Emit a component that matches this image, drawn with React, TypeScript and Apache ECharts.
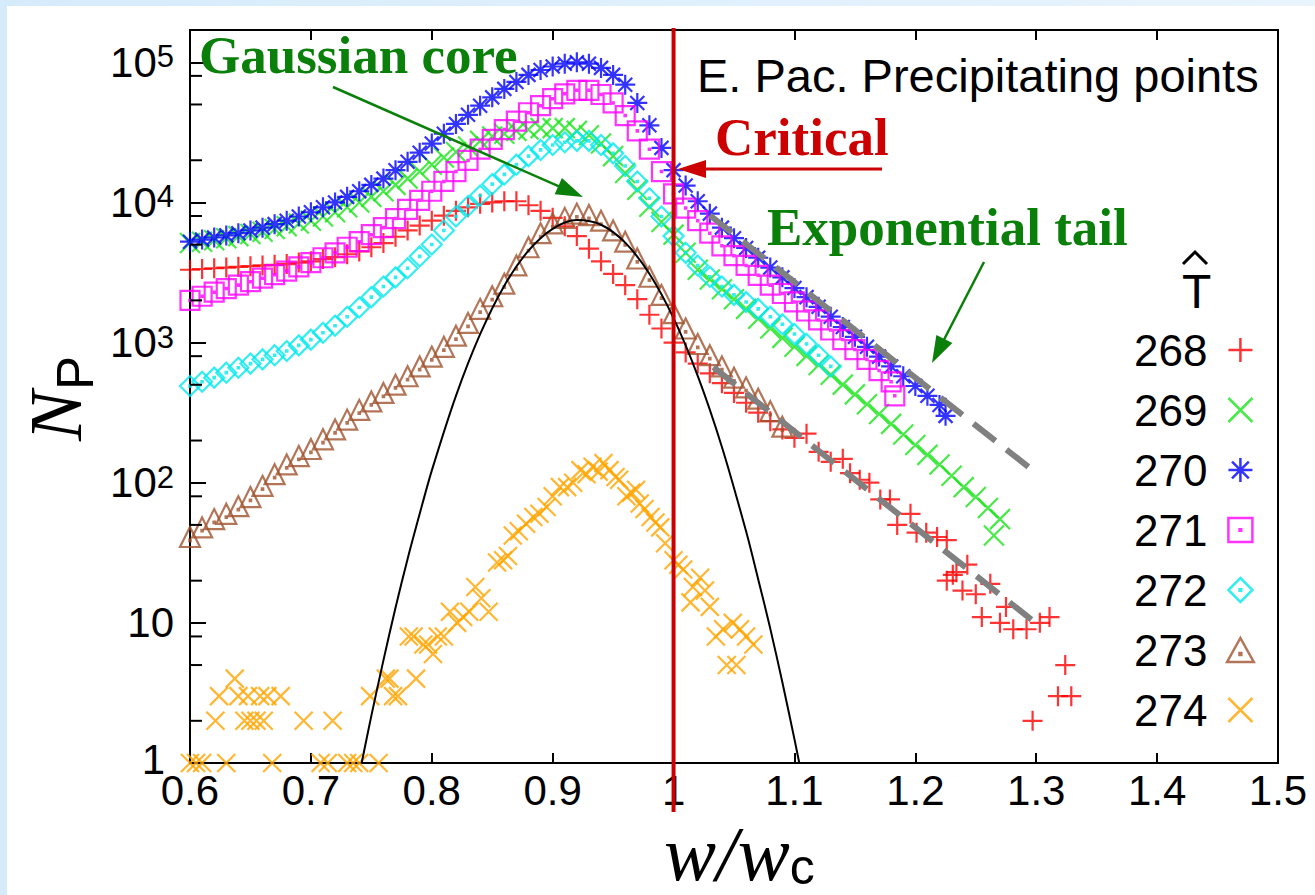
import React, { useEffect, useRef } from "react";
import * as echarts from "echarts";

const SANS = "Liberation Sans, Arial, Helvetica, sans-serif";
const SERIF = "Liberation Serif, Times New Roman, serif";

// ---- data: [w/wc, N_P] ----
const T268: [number, number][] = [
  [0.60, 3310], [0.61, 3350], [0.62, 3390], [0.63, 3430], [0.64, 3470], [0.65, 3510], [0.66, 3550], [0.67, 3590],
  [0.68, 3630], [0.69, 3720], [0.70, 3800], [0.71, 3940], [0.72, 4070], [0.73, 4270], [0.74, 4470], [0.75, 4790],
  [0.76, 5130], [0.77, 5690], [0.78, 6310], [0.79, 6840], [0.80, 7410], [0.81, 8040], [0.82, 8710], [0.83, 9230],
  [0.84, 9770], [0.85, 10000], [0.86, 10200], [0.87, 10200], [0.88, 9550], [0.89, 8710], [0.90, 7760], [0.91, 6760],
  [0.92, 5750], [0.93, 4680], [0.94, 3800], [0.95, 3090], [0.96, 2570], [0.97, 2040], [0.98, 1580], [0.99, 1260],
  [1.00, 1000], [1.01, 851], [1.02, 708], [1.03, 603], [1.04, 513], [1.05, 437], [1.06, 372], [1.07, 316],
  [1.08, 275], [1.09, 240], [1.10, 209], [1.11, 224], [1.12, 166], [1.13, 141], [1.14, 148], [1.146, 117],
  [1.154, 105], [1.162, 100], [1.171, 76], [1.179, 76], [1.185, 50], [1.196, 60], [1.201, 44], [1.209, 44],
  [1.218, 41], [1.226, 39], [1.226, 20], [1.231, 22], [1.234, 23], [1.239, 17], [1.243, 26], [1.25, 16],
  [1.255, 11], [1.262, 19], [1.27, 10], [1.275, 13], [1.281, 9], [1.292, 9], [1.297, 2], [1.303, 10],
  [1.311, 11], [1.318, 3], [1.324, 5], [1.329, 3],
];

const T269: [number, number][] = [
  [0.60, 5130], [0.61, 5250], [0.62, 5370], [0.63, 5560], [0.64, 5750], [0.65, 5960], [0.66, 6170], [0.67, 6460],
  [0.68, 6760], [0.69, 7080], [0.70, 7410], [0.71, 7940], [0.72, 8510], [0.73, 9230], [0.74, 10000], [0.75, 10960],
  [0.76, 12020], [0.77, 13340], [0.78, 14790], [0.79, 16600], [0.80, 18600], [0.81, 20900], [0.82, 22900], [0.83, 25100],
  [0.84, 27500], [0.85, 29500], [0.86, 30900], [0.87, 32400], [0.88, 33100], [0.89, 33900], [0.90, 33900], [0.91, 33900],
  [0.92, 32400], [0.93, 30200], [0.94, 26300], [0.95, 21400], [0.96, 16200], [0.97, 12300], [0.98, 9330], [0.99, 7240],
  [1.00, 5890], [1.01, 4370], [1.02, 3310], [1.03, 2820], [1.04, 2400], [1.05, 2040], [1.06, 1740], [1.07, 1480],
  [1.08, 1260], [1.09, 1080], [1.10, 933], [1.11, 804], [1.12, 692], [1.13, 589], [1.14, 501], [1.15, 427],
  [1.16, 363], [1.17, 309], [1.18, 263], [1.19, 221], [1.20, 186], [1.21, 158], [1.22, 135], [1.23, 112],
  [1.24, 93], [1.25, 79], [1.26, 66], [1.265, 42], [1.27, 55],
];

const T270: [number, number][] = [
  [0.60, 5250], [0.61, 5430], [0.62, 5620], [0.63, 5820], [0.64, 6030], [0.65, 6310], [0.66, 6610], [0.67, 7000],
  [0.68, 7410], [0.69, 7940], [0.70, 8510], [0.71, 9230], [0.72, 10000], [0.73, 10960], [0.74, 12020], [0.75, 13340],
  [0.76, 14790], [0.77, 16980], [0.78, 19500], [0.79, 22650], [0.80, 26300], [0.81, 30900], [0.82, 36300], [0.83, 42200],
  [0.84, 49000], [0.85, 56200], [0.86, 64600], [0.87, 72400], [0.88, 81300], [0.89, 88100], [0.90, 93300], [0.91, 97700],
  [0.92, 100000], [0.93, 97700], [0.94, 91200], [0.95, 81300], [0.96, 69200], [0.97, 51300], [0.98, 35500], [0.99, 24500],
  [1.00, 17000], [1.01, 13200], [1.02, 10200], [1.03, 8320], [1.04, 6610], [1.05, 5560], [1.06, 4730], [1.07, 4030],
  [1.08, 3430], [1.09, 2920], [1.10, 2450], [1.11, 2110], [1.12, 1800], [1.13, 1530], [1.14, 1290], [1.15, 1100],
  [1.16, 933], [1.17, 794], [1.18, 676], [1.19, 575], [1.20, 490], [1.21, 417], [1.22, 359], [1.225, 300],
];

const T271: [number, number][] = [
  [0.60, 2000], [0.61, 2140], [0.62, 2290], [0.63, 2430], [0.64, 2570], [0.65, 2720], [0.66, 2880], [0.67, 3050],
  [0.68, 3240], [0.69, 3470], [0.70, 3720], [0.71, 4030], [0.72, 4370], [0.73, 4790], [0.74, 5250], [0.75, 5890],
  [0.76, 6610], [0.77, 7670], [0.78, 8910], [0.79, 10350], [0.80, 12020], [0.81, 14130], [0.82, 16600], [0.83, 19950],
  [0.84, 24000], [0.85, 28200], [0.86, 33100], [0.87, 38000], [0.88, 43650], [0.89, 49000], [0.90, 55000], [0.91, 59600],
  [0.92, 63100], [0.93, 63100], [0.94, 58900], [0.95, 51300], [0.96, 41700], [0.97, 32400], [0.98, 24000], [0.99, 16600],
  [1.00, 11500], [1.01, 9120], [1.02, 7410], [1.03, 6030], [1.04, 4900], [1.05, 4170], [1.06, 3550], [1.07, 3020],
  [1.08, 2570], [1.09, 2240], [1.10, 1950], [1.11, 1680], [1.12, 1450], [1.13, 1230], [1.14, 1050], [1.15, 891],
  [1.16, 759], [1.17, 631], [1.18, 525], [1.183, 417],
];

const T272: [number, number][] = [
  [0.60, 490], [0.61, 525], [0.62, 562], [0.63, 610], [0.64, 661], [0.65, 708], [0.66, 759], [0.67, 813],
  [0.68, 871], [0.69, 955], [0.70, 1050], [0.71, 1175], [0.72, 1320], [0.73, 1530], [0.74, 1780], [0.75, 2110],
  [0.76, 2510], [0.77, 2920], [0.78, 3390], [0.79, 4120], [0.80, 5010], [0.81, 6310], [0.82, 7940], [0.83, 9440],
  [0.84, 11200], [0.85, 13500], [0.86, 15850], [0.87, 18600], [0.88, 21400], [0.89, 23700], [0.90, 25700], [0.91, 26900],
  [0.92, 27500], [0.93, 27500], [0.94, 25700], [0.95, 22400], [0.96, 18200], [0.97, 14100], [0.98, 10700], [0.99, 7940],
  [1.00, 5750], [1.01, 4370], [1.02, 3550], [1.03, 2950], [1.04, 2510], [1.05, 2190], [1.06, 1950], [1.07, 1740],
  [1.08, 1530], [1.09, 1350], [1.10, 1150], [1.11, 977], [1.12, 813], [1.13, 676],
];

const T273: [number, number][] = [
  [0.60, 41], [0.61, 48], [0.62, 55], [0.63, 60], [0.64, 68], [0.65, 79], [0.66, 95], [0.67, 115],
  [0.68, 135], [0.69, 155], [0.70, 174], [0.71, 204], [0.72, 240], [0.73, 282], [0.74, 331], [0.75, 380],
  [0.76, 437], [0.77, 501], [0.78, 575], [0.79, 676], [0.80, 794], [0.81, 933], [0.82, 1120], [0.83, 1380],
  [0.84, 1740], [0.85, 2140], [0.86, 2630], [0.87, 3550], [0.88, 4790], [0.89, 6030], [0.90, 7080], [0.91, 7760],
  [0.92, 8320], [0.93, 8130], [0.94, 7410], [0.95, 6310], [0.96, 5250], [0.97, 3980], [0.98, 2950], [0.99, 2190],
  [1.00, 1620], [1.01, 1260], [1.02, 977], [1.03, 813], [1.04, 676], [1.05, 562], [1.06, 479], [1.07, 398],
  [1.08, 324], [1.09, 251],
];

const T274: [number, number][] = [
  [0.600, 1], [0.605, 1], [0.610, 1], [0.630, 1], [0.668, 1], [0.708, 1], [0.714, 1], [0.730, 1], [0.735, 1],
  [0.740, 1], [0.756, 1], [0.621, 2], [0.645, 2], [0.650, 2], [0.655, 2], [0.661, 2], [0.694, 2], [0.718, 2],
  [0.624, 3], [0.640, 3], [0.648, 3], [0.658, 3], [0.664, 3], [0.675, 3], [0.749, 3], [0.768, 3], [0.772, 3],
  [0.637, 4], [0.762, 4], [0.765, 4], [0.787, 4], [0.781, 8], [0.785, 8], [0.793, 7], [0.797, 7], [0.801, 6],
  [0.805, 8], [0.810, 8], [0.815, 12], [0.821, 10], [0.826, 11], [0.831, 12], [0.836, 18], [0.841, 15], [0.847, 12],
  [0.854, 27], [0.859, 28], [0.863, 30], [0.867, 42], [0.872, 45], [0.878, 51], [0.884, 57], [0.889, 60], [0.895, 67],
  [0.900, 80], [0.906, 93], [0.912, 93], [0.917, 100], [0.923, 123], [0.928, 115], [0.933, 130], [0.938, 120],
  [0.942, 138], [0.947, 123], [0.952, 110], [0.955, 105], [0.961, 80], [0.965, 85], [0.969, 89], [0.972, 71],
  [0.976, 65], [0.981, 57], [0.985, 52], [0.989, 48], [0.993, 37], [1.000, 28], [1.004, 26], [1.008, 24],
  [1.014, 14], [1.016, 18], [1.022, 21], [1.026, 17], [1.030, 13], [1.035, 8], [1.041, 9], [1.044, 5],
  [1.049, 10], [1.052, 5], [1.055, 9], [1.060, 8], [1.066, 7],
];

const GAUSS_FIT: [number, number][] = [
  [0.742, 1], [0.75, 2.17], [0.76, 5.4], [0.77, 12.8], [0.78, 28.6], [0.79, 60], [0.80, 122], [0.82, 417],
  [0.84, 1148], [0.86, 2547], [0.88, 4529], [0.90, 6486], [0.92, 7490], [0.94, 6934], [0.96, 5163], [0.98, 3098],
  [1.00, 1493], [1.02, 578], [1.04, 180], [1.06, 45], [1.07, 20.5], [1.08, 9.1], [1.09, 3.77], [1.10, 1.48], [1.104, 1],
];

const EXP_TAIL_UPPER: [number, number][] = [[1.03, 8100], [1.30, 117]];
const EXP_TAIL_LOWER: [number, number][] = [[1.033, 667], [1.30, 9.9]];

const MINOR_Y_TICKS = [2, 5, 8, 20, 50, 80, 200, 500, 800, 2000, 5000, 8000, 20000, 50000, 80000];
const LEGEND_NAMES = ["268", "269", "270", "271", "272", "273", "274"];

// symbols
const DOT = "M9.3,9.3L10.7,9.3L10.7,10.7L9.3,10.7Z";
const SYM_PLUS = "path://M0,10L20,10M10,0L10,20";
const SYM_CROSS = "path://M0,0L20,20M20,0L0,20";
const SYM_STAR = "path://M0,10L20,10M10,0L10,20M3,3L17,17M17,3L3,17";
const SYM_SQUARE = "path://M0,0L20,0L20,20L0,20Z" + DOT;
const SYM_DIAMOND = "path://M10,0L20,10L10,20L0,10Z" + DOT;
const SYM_TRIANGLE = "path://M10,0L20,18L0,18Z" + "M9.3,11.3L10.7,11.3L10.7,12.7L9.3,12.7Z";

function arrow(x1: number, y1: number, x2: number, y2: number, color: string, w: number, hl: number, hw: number) {
  const dx = x2 - x1, dy = y2 - y1;
  const L = Math.hypot(dx, dy);
  const ux = dx / L, uy = dy / L;
  const bx = x2 - ux * hl, by = y2 - uy * hl;
  return [
    { type: "line", z: 100, shape: { x1, y1, x2: bx + ux * 2, y2: by + uy * 2 }, style: { stroke: color, lineWidth: w } },
    {
      type: "polygon", z: 100,
      shape: { points: [[x2, y2], [bx - uy * hw, by + ux * hw], [bx + uy * hw, by - ux * hw]] },
      style: { fill: color },
    },
  ];
}

function txt(x: number, y: number, text: string, fontSize: number, family: string, fill: string, extra: any = {}) {
  const { lineHeight, rich, ...rest } = extra;
  return {
    type: "text", z: 100, x, y, ...rest,
    style: {
      text, fontSize, fontFamily: family, fill,
      align: "left", verticalAlign: "middle", textAlign: "left", textVerticalAlign: "middle",
      fontWeight: extra.fontWeight || "normal", fontStyle: extra.fontStyle || "normal",
      ...(lineHeight ? { lineHeight } : {}),
      ...(rich ? { rich } : {}),
    },
  };
}

export default function App() {
  const ref = useRef<HTMLDivElement>(null);
  useEffect(() => {
    const chart = echarts.init(ref.current!, null, { renderer: "svg" });
    const scatter = (name: string, data: [number, number][], symbol: string, color: string, size = 20) => ({
      name, type: "scatter", data, symbol, symbolSize: size, clip: false,
      itemStyle: { color: "transparent", borderColor: color, borderWidth: 2.2 },
      emphasis: { disabled: true },
    });
    const axisLineStyle = { color: "#000", width: 2 };
    chart.setOption({
      animation: false,
      backgroundColor: "#ffffff",
      grid: { left: 190, top: 30, width: 1088, height: 733, show: true, borderColor: "#000", borderWidth: 2, backgroundColor: "transparent" },
      xAxis: [
        {
          type: "value", min: 0.6, max: 1.5, interval: 0.1, position: "bottom",
          axisLine: { show: true, onZero: false, lineStyle: axisLineStyle },
          axisTick: { show: true, inside: true, length: 10, lineStyle: axisLineStyle },
          axisLabel: {
            fontSize: 42, fontFamily: SANS, color: "#000", margin: 10, lineHeight: 34,
            formatter: (v: number) => String(Math.round(v * 10) / 10),
          },
          splitLine: { show: false },
        },
        {
          type: "value", min: 0.6, max: 1.5, interval: 0.1, position: "top",
          axisLine: { show: true, onZero: false, lineStyle: axisLineStyle },
          axisTick: { show: true, inside: true, length: 10, lineStyle: axisLineStyle },
          axisLabel: { show: false }, splitLine: { show: false },
        },
      ],
      yAxis: {
        type: "log", logBase: 10, min: 1, max: 170000,
        axisLine: { show: true, onZero: false, lineStyle: axisLineStyle },
        axisTick: { show: true, inside: true, length: 16, lineStyle: axisLineStyle },
        splitLine: { show: false },
        axisLabel: {
          margin: 16,
          formatter: (v: number) => {
            const e = Math.log10(v);
            const r = Math.round(e);
            if (Math.abs(e - r) > 1e-6) return "";
            if (r === 0) return "{o|1}";
            if (r === 1) return "{b|10}";
            return "{b|10}{s|" + r + "}";
          },
          rich: {
            o: { fontSize: 42, fontFamily: SANS, color: "#000", lineHeight: 24, padding: [0, 9, 7, 0] },
            b: { fontSize: 42, fontFamily: SANS, color: "#000" },
            s: { fontSize: 31, fontFamily: SANS, color: "#000", verticalAlign: "top" },
          },
        },
      },
      legend: {
        data: LEGEND_NAMES, orient: "vertical", align: "right", left: 1134, top: 328,
        itemWidth: 56, itemHeight: 24, itemGap: 16, padding: 0, selectedMode: false,
        textStyle: { fontSize: 44, fontFamily: SANS, color: "#000", lineHeight: 44 },
        itemStyle: { borderWidth: 2.5 },
      },
      series: [
        scatter("268", T268, SYM_PLUS, "#ff0000"),
        scatter("269", T269, SYM_CROSS, "#1be41b"),
        scatter("270", T270, SYM_STAR, "#0000ff"),
        scatter("271", T271, SYM_SQUARE, "#ff00ff", 19),
        scatter("272", T272, SYM_DIAMOND, "#00e8ee"),
        scatter("273", T273, SYM_TRIANGLE, "#a0522d"),
        scatter("274", T274, SYM_CROSS, "#ffa500", 18),
        {
          name: "gauss", type: "line", data: GAUSS_FIT, showSymbol: false, symbol: "none", smooth: 0.3,
          lineStyle: { color: "#000", width: 2 }, z: 3, silent: true,
        },
        {
          name: "tailU", type: "line", data: EXP_TAIL_UPPER, symbol: "none",
          lineStyle: { color: "#808080", width: 6, type: [28, 14] }, z: 3, silent: true,
        },
        {
          name: "tailL", type: "line", data: EXP_TAIL_LOWER, symbol: "none",
          lineStyle: { color: "#808080", width: 6, type: [28, 14] }, z: 3, silent: true,
        },
        {
          name: "minorTicks", type: "custom", coordinateSystem: "cartesian2d", silent: true, clip: false, z: 4,
          data: MINOR_Y_TICKS.map((v) => [0.6, v]),
          renderItem: (params: any, api: any) => {
            const p = api.coord([api.value(0), api.value(1)]);
            return { type: "line", shape: { x1: p[0], y1: p[1], x2: p[0] + 12, y2: p[1] }, style: { stroke: "#000", lineWidth: 2 } };
          },
        },
      ],
    });

    const pCrit = chart.convertToPixel({ xAxisIndex: 0, yAxisIndex: 0 }, [1, 1]) as number[];
    const GREEN = "#0a7f0a";
    const RED = "#cc0000";
    chart.setOption({
      graphic: [
        { type: "rect", z: 0, shape: { x: 0, y: 0, width: 7, height: 895 }, style: { fill: "#d5ebfb" } },
        {
          type: "rect", z: 0, shape: { x: 0, y: 0, width: 1315, height: 6 },
          style: { fill: new echarts.graphic.LinearGradient(0, 0, 1, 0, [{ offset: 0, color: "#d5ebfb" }, { offset: 1, color: "#e9f4fd" }]) },
        },
        { type: "rect", z: 100, shape: { x: pCrit[0] - 2, y: 28, width: 4, height: 812 - 28 }, style: { fill: RED } },
        txt(697, 75.7, "E. Pac. Precipitating points", 47, SANS, "#000"),
        txt(199, 55, "Gaussian core", 53, SERIF, GREEN, { fontWeight: "bold" }),
        txt(715, 137, "Critical", 53, SERIF, RED, { fontWeight: "bold" }),
        txt(767, 227, "Exponential tail", 53, SERIF, GREEN, { fontWeight: "bold" }),
        ...arrow(333, 87, 583, 197, GREEN, 2.5, 27, 9),
        ...arrow(882, 169, 678, 169, RED, 3, 28, 9),
        ...arrow(984, 262, 932, 363, GREEN, 2.5, 27, 9),
        txt(1182, 291, "T", 48, SANS, "#000"),
        { type: "polyline", z: 100, shape: { points: [[1183, 264], [1195, 252], [1207, 264]] }, style: { stroke: "#000", lineWidth: 3, fill: "none" } },
        {
          type: "text", z: 100, x: 664, y: 892,
          style: {
            text: "{a|w/w}{b|c}", align: "left", verticalAlign: "bottom", textAlign: "left", textVerticalAlign: "bottom",
            rich: {
              a: { fontSize: 78, fontFamily: SERIF, fontStyle: "italic", fill: "#000", lineHeight: 64, verticalAlign: "bottom" },
              b: { fontSize: 50, fontFamily: SANS, fill: "#000", lineHeight: 34, verticalAlign: "bottom" },
            },
          },
        },
        txt(55, 441, "N", 75, SERIF, "#000", { fontStyle: "italic", rotation: Math.PI / 2, lineHeight: 60 }),
        txt(75, 390, "P", 51, SANS, "#000", { rotation: Math.PI / 2, lineHeight: 40 }),
      ],
    });
    return () => chart.dispose();
  }, []);
  return (
    <div style={{ position: "fixed", left: 0, top: 0, width: 1315, height: 895, background: "#fff" }}>
      <div ref={ref} style={{ width: 1315, height: 895 }} />
    </div>
  );
}
